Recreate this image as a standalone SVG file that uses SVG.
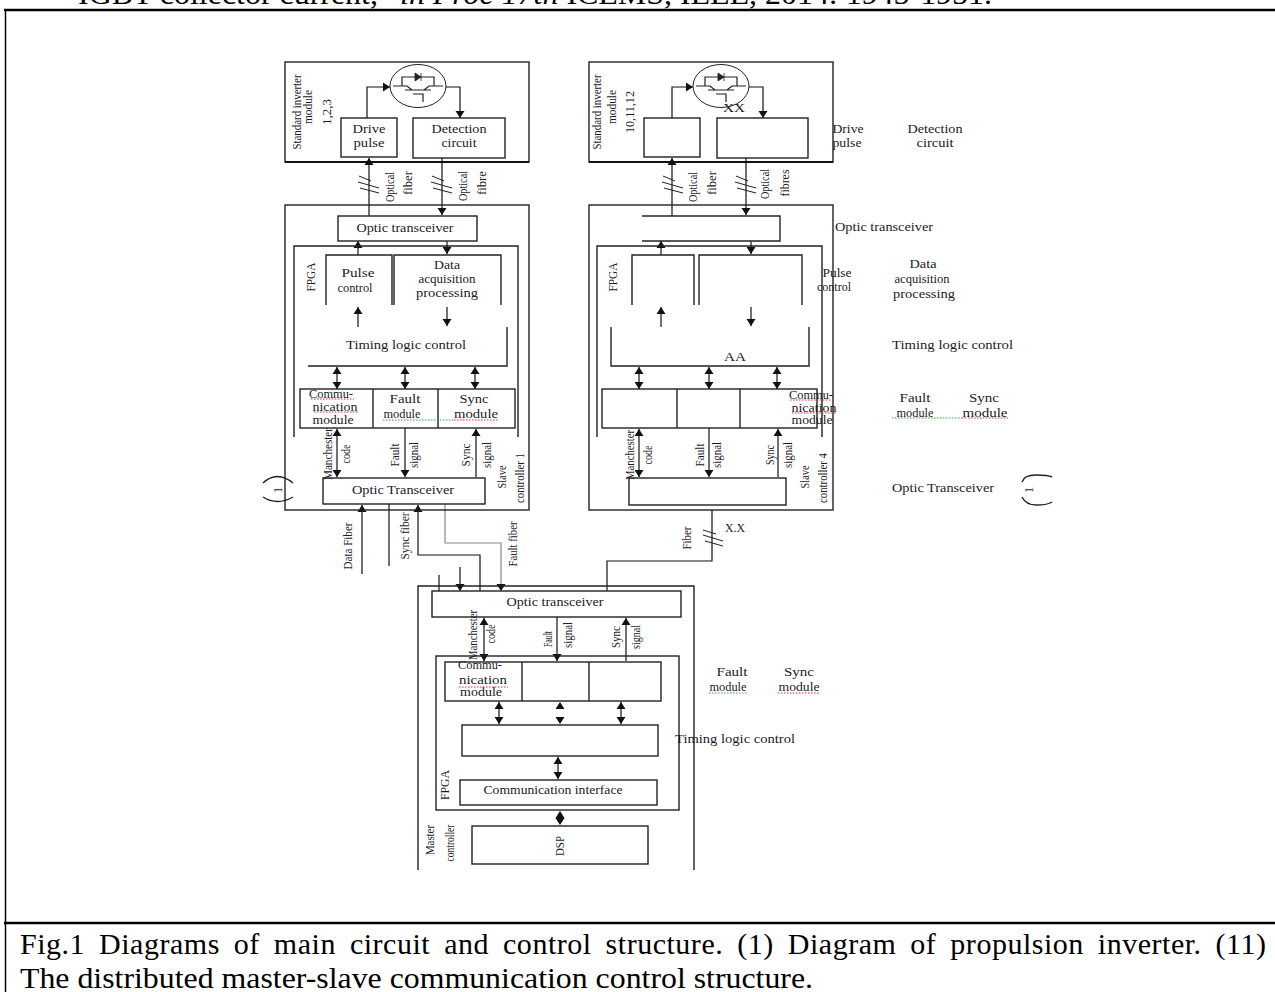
<svg xmlns="http://www.w3.org/2000/svg" width="1275" height="992" viewBox="0 0 1275 992">
<style>
.b{fill:none;stroke:#222;stroke-width:1.4}
.l{fill:none;stroke:#111;stroke-width:1.2}
.h{marker-end:url(#a)}
.d{marker-start:url(#s);marker-end:url(#a)}
.g{stroke:#888}
text{font-family:"Liberation Serif","Times New Roman",serif;fill:#1a1a2a;font-size:13px}
.m{text-anchor:middle}
.c{font-size:30px;fill:#000}
.sl{fill:none;stroke:#222;stroke-width:1}
.r{fill:none;stroke:#e03030;stroke-width:1;stroke-dasharray:1.5 1.5}
.n{fill:none;stroke:#40a040;stroke-width:1;stroke-dasharray:1.5 1.5}
</style>
<defs>
<marker id="a" markerUnits="userSpaceOnUse" markerWidth="10" markerHeight="10" refX="8" refY="5" orient="auto"><path d="M1 0.500L8 5L1 9.500Z" fill="#111"/></marker>
<marker id="s" markerUnits="userSpaceOnUse" markerWidth="10" markerHeight="10" refX="1" refY="5" orient="auto"><path d="M8 0.500L1 5L8 9.500Z" fill="#111"/></marker>
<g id="igbt"><ellipse rx="28" ry="21.500" fill="#fff" stroke="#222" stroke-width="1"/><path d="M-25 0H-11L-6 4M25 0H11L6 4M-16 0V-9H16V0M-13 4H13M-5 8H5V16" fill="none" stroke="#222" stroke-width="1.200"/><path d="M-3 -13L3 -9L-3 -5ZM3 -13V-5" fill="#222" stroke="#222" stroke-width="0.800"/></g>
</defs>
<g id="frame"><path d="M5.500 992V10" fill="none" stroke="#000" stroke-width="1.500"/><path d="M4 10H1275" stroke="#000" stroke-width="2.500"/><path d="M4 923H1275" stroke="#000" stroke-width="2.500"/></g>
<g id="citation"><text class="c" x="78" y="3.500" textLength="914" lengthAdjust="spacingAndGlyphs">IGBT collector current,” <tspan font-style="italic">in Proc 17th</tspan> ICEMS, IEEE, 2014: 1945-1951.</text></g>

<g id="connectors">
<path class="l h" d="M367 118V87H390"/><path class="l h" d="M446 87H460V118"/>
<path class="l h" d="M369 216V158"/><path class="l h" d="M442 158V215"/>
<path class="l h" d="M358 255V241"/><path class="l h" d="M447 241V254"/>
<path class="l h" d="M358 327V307"/><path class="l h" d="M447 307V326"/>
<path class="l d" d="M337 367V389"/><path class="l d" d="M405 367V389"/><path class="l d" d="M475 367V389"/>
<path class="l d" d="M337 429V477"/><path class="l h" d="M405 428V477"/><path class="l h" d="M476 477V429"/>
<path class="l h" d="M362 574V505"/><path class="l" d="M389 504V566"/>
<path class="l h" d="M480 591V555H418V505"/>
<path class="l g h" d="M445 504V543H501V591"/>
<path class="l" d="M439 575V591"/><path class="l h" d="M460 567V591"/>
<path class="l" d="M607 591V561H712V510"/>

<path class="l h" d="M672 118V87H693"/><path class="l h" d="M749 87H763V118"/>
<path class="l h" d="M672 216V158"/><path class="l h" d="M746 158V215" stroke-width="2.500"/>
<path class="l h" d="M661 255V241"/><path class="l h" d="M751 241V254"/>
<path class="l h" d="M661 327V307"/><path class="l h" d="M751 307V326"/>
<path class="l d" d="M639 367V389"/><path class="l d" d="M709 367V389"/><path class="l d" d="M777 367V389"/>
<path class="l d" d="M639 429V477"/><path class="l h" d="M709 428V477"/><path class="l h" d="M778 477V429"/>

<path class="l d" d="M484 618V661"/><path class="l h" d="M557 617V661"/><path class="l h" d="M626 661V618"/>
<path class="l d" d="M499 702V724"/><path d="M560 702l-4.500 7h9zM560 724l-4.500 -7h9z" fill="#111"/><path class="l d" d="M621 702V724"/>
<path class="l d" d="M558 757V779"/><path d="M560 811l-4.500 7h9zM560 825l-4.500 -7h9z" fill="#111"/>
</g>
<g id="slashes">
<path class="sl" d="M359 176L371 181M358 182L379 188M360 188L379 193"/>
<path class="sl" d="M432 176L444 181M431 182L452 188M433 188L452 193"/>
<path class="sl" d="M663 176L675 181M662 182L683 188M664 188L683 193"/>
<path class="sl" d="M736 176L748 181M735 182L756 188M737 188L756 193"/>
<path class="sl" d="M703 530L716 534M703 535L723 541M705 541L723 546"/>
</g>

<g id="inverter-module-1">
<rect class="b" x="285" y="62" width="244" height="100"/><path d="M285 162H529" stroke="#111" stroke-width="2"/>
<use href="#igbt" x="418" y="86"/>
<text transform="translate(301,112) rotate(-90)" class="m" textLength="75" lengthAdjust="spacingAndGlyphs">Standard inverter</text>
<text transform="translate(312,107) rotate(-90)" class="m" textLength="34" lengthAdjust="spacingAndGlyphs">module</text>
<text transform="translate(331,112) rotate(-90)" class="m" textLength="26" lengthAdjust="spacingAndGlyphs">1,2,3</text>
</g>
<g id="drive-pulse-1"><rect class="b" x="341" y="118" width="56" height="39"/><text class="m" x="369" y="133" textLength="33" lengthAdjust="spacingAndGlyphs">Drive</text><text class="m" x="369" y="147" textLength="31" lengthAdjust="spacingAndGlyphs">pulse</text></g>
<g id="detection-1"><rect class="b" x="413" y="118" width="92" height="40" stroke-width="2"/><text class="m" x="459" y="133" textLength="55" lengthAdjust="spacingAndGlyphs">Detection</text><text class="m" x="459" y="147" textLength="35" lengthAdjust="spacingAndGlyphs">circuit</text></g>
<g id="fiber-labels-1">
<text transform="translate(394,187) rotate(-90)" class="m" textLength="30" lengthAdjust="spacingAndGlyphs">Optical</text><text transform="translate(412,183) rotate(-90)" class="m" textLength="24" lengthAdjust="spacingAndGlyphs">fiber</text>
<text transform="translate(467,186) rotate(-90)" class="m" textLength="30" lengthAdjust="spacingAndGlyphs">Optical</text><text transform="translate(486,183) rotate(-90)" class="m" textLength="24" lengthAdjust="spacingAndGlyphs">fibre</text>
</g>

<g id="slave-1">
<rect class="b" x="285" y="205" width="244" height="305"/>
<text transform="translate(506,477) rotate(-90)" class="m" textLength="23" lengthAdjust="spacingAndGlyphs">Slave</text>
<text transform="translate(524,478) rotate(-90)" class="m" textLength="50" lengthAdjust="spacingAndGlyphs">controller 1</text>
</g>
<g id="optic-1"><rect class="b" x="338" y="216" width="139" height="25"/><text class="m" x="405" y="232" textLength="97" lengthAdjust="spacingAndGlyphs">Optic transceiver</text></g>
<g id="fpga-1"><path class="b" d="M294 437V246H518V437"/><text transform="translate(315,277) rotate(-90)" class="m" textLength="29" lengthAdjust="spacingAndGlyphs">FPGA</text></g>
<g id="pulse-1"><path class="b" d="M326 305V255H392V305"/><text class="m" x="358" y="277" textLength="33" lengthAdjust="spacingAndGlyphs">Pulse</text><text class="m" x="355" y="292" textLength="35" lengthAdjust="spacingAndGlyphs">control</text></g>
<g id="data-1"><path class="b" d="M394 305V255H501V305"/><text class="m" x="447" y="269" textLength="26" lengthAdjust="spacingAndGlyphs">Data</text><text class="m" x="447" y="283" textLength="57" lengthAdjust="spacingAndGlyphs">acquisition</text><text class="m" x="447" y="297" textLength="62" lengthAdjust="spacingAndGlyphs">processing</text></g>
<g id="timing-1"><path class="b" d="M308 366H507V327"/><text class="m" x="406" y="349" textLength="120" lengthAdjust="spacingAndGlyphs">Timing logic control</text></g>
<g id="modules-1">
<rect class="b" x="300" y="389" width="215" height="39"/><path class="b" d="M373 389V428M438 389V428"/>
<text class="m" x="331" y="398" textLength="44" lengthAdjust="spacingAndGlyphs">Commu-</text><text class="m" x="335" y="411" textLength="45" lengthAdjust="spacingAndGlyphs">nication</text><text class="m" x="333" y="424" textLength="41" lengthAdjust="spacingAndGlyphs">module</text>
<text class="m" x="405" y="403" textLength="31" lengthAdjust="spacingAndGlyphs">Fault</text><text class="m" x="402" y="418" textLength="37" lengthAdjust="spacingAndGlyphs">module</text>
<text class="m" x="474" y="403" textLength="29" lengthAdjust="spacingAndGlyphs">Sync</text><text class="m" x="476" y="418" textLength="44" lengthAdjust="spacingAndGlyphs">module</text>
<path class="r" d="M311 399H354M314 412H358M454 420H498"/><path class="n" d="M383 420H454"/>
</g>
<g id="signals-1">
<text transform="translate(332,454) rotate(-90)" class="m" textLength="52" lengthAdjust="spacingAndGlyphs">Manchester</text><text transform="translate(350,454) rotate(-90)" class="m" textLength="19" lengthAdjust="spacingAndGlyphs">code</text>
<text transform="translate(399,455) rotate(-90)" class="m" textLength="23" lengthAdjust="spacingAndGlyphs">Fault</text><text transform="translate(418,455) rotate(-90)" class="m" textLength="26" lengthAdjust="spacingAndGlyphs">signal</text>
<text transform="translate(470,455) rotate(-90)" class="m" textLength="23" lengthAdjust="spacingAndGlyphs">Sync</text><text transform="translate(491,455) rotate(-90)" class="m" textLength="26" lengthAdjust="spacingAndGlyphs">signal</text>
</g>
<g id="optic-tx-1"><rect class="b" x="323" y="478" width="162" height="26"/><text class="m" x="403" y="494" textLength="102" lengthAdjust="spacingAndGlyphs">Optic Transceiver</text></g>
<g id="mark-1"><path class="b" d="M263 483Q277 470 293 483M263 497Q277 506 293 497"/><text class="m" transform="translate(282,490) rotate(-90)" font-size="11">1</text></g>
<g id="fiber-labels-bottom">
<text transform="translate(352,546) rotate(-90)" class="m" textLength="47" lengthAdjust="spacingAndGlyphs">Data Fiber</text>
<text transform="translate(409,536) rotate(-90)" class="m" textLength="47" lengthAdjust="spacingAndGlyphs">Sync fiber</text>
<text transform="translate(517,544) rotate(-90)" class="m" textLength="45" lengthAdjust="spacingAndGlyphs">Fault fiber</text>
</g>

<g id="inverter-module-2">
<rect class="b" x="589" y="62" width="244" height="100"/><path d="M589 162H833" stroke="#111" stroke-width="2"/>
<use href="#igbt" x="721" y="86"/>
<text transform="translate(601,112) rotate(-90)" class="m" textLength="75" lengthAdjust="spacingAndGlyphs">Standard inverter</text>
<text transform="translate(616,107) rotate(-90)" class="m" textLength="34" lengthAdjust="spacingAndGlyphs">module</text>
<text transform="translate(634,112) rotate(-90)" class="m" textLength="42" lengthAdjust="spacingAndGlyphs">10,11,12</text>
<text class="m" x="734" y="112" textLength="22" lengthAdjust="spacingAndGlyphs">XX</text>
</g>
<g id="drive-pulse-2"><rect class="b" x="644" y="118" width="56" height="39"/><text class="m" x="848" y="133" textLength="31" lengthAdjust="spacingAndGlyphs">Drive</text><text class="m" x="847" y="147" textLength="29" lengthAdjust="spacingAndGlyphs">pulse</text></g>
<g id="detection-2"><rect class="b" x="717" y="118" width="91" height="40"/><text class="m" x="935" y="133" textLength="55" lengthAdjust="spacingAndGlyphs">Detection</text><text class="m" x="935" y="147" textLength="37" lengthAdjust="spacingAndGlyphs">circuit</text></g>
<g id="fiber-labels-2">
<text transform="translate(697,187) rotate(-90)" class="m" textLength="30" lengthAdjust="spacingAndGlyphs">Optical</text><text transform="translate(716,183) rotate(-90)" class="m" textLength="24" lengthAdjust="spacingAndGlyphs">fiber</text>
<text transform="translate(769,184) rotate(-90)" class="m" textLength="30" lengthAdjust="spacingAndGlyphs">Optical</text><text transform="translate(789,183) rotate(-90)" class="m" textLength="27" lengthAdjust="spacingAndGlyphs">fibres</text>
</g>

<g id="slave-4">
<rect class="b" x="589" y="205" width="244" height="305"/>
<text transform="translate(809,477) rotate(-90)" class="m" textLength="23" lengthAdjust="spacingAndGlyphs">Slave</text>
<text transform="translate(827,478) rotate(-90)" class="m" textLength="50" lengthAdjust="spacingAndGlyphs">controller 4</text>
</g>
<g id="optic-2"><path class="b" d="M642 216H780V241H642"/><text x="835" y="231" textLength="98" lengthAdjust="spacingAndGlyphs">Optic transceiver</text></g>
<g id="fpga-2"><path class="b" d="M597 437V246H822V437"/><text transform="translate(617,277) rotate(-90)" class="m" textLength="29" lengthAdjust="spacingAndGlyphs">FPGA</text></g>
<g id="pulse-2"><path class="b" d="M632 305V255H694V305"/><text class="m" x="837" y="277" textLength="29" lengthAdjust="spacingAndGlyphs">Pulse</text><text class="m" x="834" y="291" textLength="34" lengthAdjust="spacingAndGlyphs">control</text></g>
<g id="data-2"><path class="b" d="M699 305V255H802V305"/><text class="m" x="923" y="268" textLength="27" lengthAdjust="spacingAndGlyphs">Data</text><text class="m" x="922" y="283" textLength="55" lengthAdjust="spacingAndGlyphs">acquisition</text><text class="m" x="924" y="298" textLength="62" lengthAdjust="spacingAndGlyphs">processing</text></g>
<g id="timing-2"><path class="b" d="M611 327V366H809V327"/><text class="m" x="735" y="361" textLength="22" lengthAdjust="spacingAndGlyphs">AA</text><text x="892" y="349" textLength="121" lengthAdjust="spacingAndGlyphs">Timing logic control</text></g>
<g id="modules-2">
<rect class="b" x="602" y="389" width="215" height="39"/><path class="b" d="M677 389V428M740 389V428"/>
<text class="m" x="811" y="399" textLength="44" lengthAdjust="spacingAndGlyphs">Commu-</text><text class="m" x="814" y="412" textLength="45" lengthAdjust="spacingAndGlyphs">nication</text><text class="m" x="812" y="424" textLength="41" lengthAdjust="spacingAndGlyphs">module</text>
<text class="m" x="915" y="402" textLength="31" lengthAdjust="spacingAndGlyphs">Fault</text><text class="m" x="915" y="417" textLength="37" lengthAdjust="spacingAndGlyphs">module</text>
<text class="m" x="984" y="402" textLength="30" lengthAdjust="spacingAndGlyphs">Sync</text><text class="m" x="985" y="417" textLength="45" lengthAdjust="spacingAndGlyphs">module</text>
<path class="r" d="M790 400H833M792 413H837M962 418H1008"/><path class="n" d="M892 418H962"/>
</g>
<g id="signals-2">
<text transform="translate(634,455) rotate(-90)" class="m" textLength="50" lengthAdjust="spacingAndGlyphs">Manchester</text><text transform="translate(652,455) rotate(-90)" class="m" textLength="19" lengthAdjust="spacingAndGlyphs">code</text>
<text transform="translate(704,455) rotate(-90)" class="m" textLength="23" lengthAdjust="spacingAndGlyphs">Fault</text><text transform="translate(721,455) rotate(-90)" class="m" textLength="26" lengthAdjust="spacingAndGlyphs">signal</text>
<text transform="translate(774,455) rotate(-90)" class="m" textLength="20" lengthAdjust="spacingAndGlyphs">Sync</text><text transform="translate(792,455) rotate(-90)" class="m" textLength="26" lengthAdjust="spacingAndGlyphs">signal</text>
</g>
<g id="optic-tx-2"><rect class="b" x="629" y="478" width="157" height="27"/><text x="892" y="492" textLength="102" lengthAdjust="spacingAndGlyphs">Optic Transceiver</text></g>
<g id="mark-2"><path class="b" d="M1022 482Q1024 475 1036 475Q1048 475 1052 477M1022 497Q1026 505 1036 505Q1048 505 1052 502"/><text class="m" transform="translate(1033,490) rotate(-90)" font-size="11">1</text></g>
<g id="fiber-label-x"><text transform="translate(691,538) rotate(-90)" class="m" textLength="23" lengthAdjust="spacingAndGlyphs">Fiber</text><text class="m" x="735" y="532" textLength="20" lengthAdjust="spacingAndGlyphs">X.X</text></g>

<g id="master">
<path class="b" d="M418 870V586H694V870"/>
<text transform="translate(434,840) rotate(-90)" class="m" textLength="30" lengthAdjust="spacingAndGlyphs">Master</text>
<text transform="translate(454,843) rotate(-90)" class="m" textLength="37" lengthAdjust="spacingAndGlyphs">controller</text>
</g>
<g id="optic-m"><rect class="b" x="432" y="591" width="249" height="26"/><text class="m" x="555" y="606" textLength="97" lengthAdjust="spacingAndGlyphs">Optic transceiver</text></g>
<g id="signals-m">
<text transform="translate(477,635) rotate(-90)" class="m" textLength="50" lengthAdjust="spacingAndGlyphs">Manchester</text><text transform="translate(495,634) rotate(-90)" class="m" textLength="19" lengthAdjust="spacingAndGlyphs">code</text>
<text transform="translate(552,639) rotate(-90)" class="m" textLength="16" lengthAdjust="spacingAndGlyphs">Fault</text><text transform="translate(572,635) rotate(-90)" class="m" textLength="26" lengthAdjust="spacingAndGlyphs">signal</text>
<text transform="translate(620,637) rotate(-90)" class="m" textLength="22" lengthAdjust="spacingAndGlyphs">Sync</text><text transform="translate(640,637) rotate(-90)" class="m" textLength="24" lengthAdjust="spacingAndGlyphs">signal</text>
</g>
<g id="fpga-m"><rect class="b" x="436" y="656" width="243" height="154"/><text transform="translate(449,785) rotate(-90)" class="m" textLength="30" lengthAdjust="spacingAndGlyphs">FPGA</text></g>
<g id="modules-m">
<rect class="b" x="445" y="662" width="216" height="39"/><path class="b" d="M522 662V701M589 662V701"/>
<text class="m" x="480" y="669" textLength="44" lengthAdjust="spacingAndGlyphs">Commu-</text><text class="m" x="483" y="684" textLength="48" lengthAdjust="spacingAndGlyphs">nication</text><text class="m" x="481" y="696" textLength="42" lengthAdjust="spacingAndGlyphs">module</text>
<text class="m" x="732" y="676" textLength="31" lengthAdjust="spacingAndGlyphs">Fault</text><text class="m" x="728" y="691" textLength="37" lengthAdjust="spacingAndGlyphs">module</text>
<text class="m" x="799" y="676" textLength="30" lengthAdjust="spacingAndGlyphs">Sync</text><text class="m" x="799" y="691" textLength="41" lengthAdjust="spacingAndGlyphs">module</text>
<path class="r" d="M459 687H508M778 693H820"/><path class="n" d="M709 693H748"/>
</g>
<g id="timing-m"><rect class="b" x="462" y="725" width="196" height="31"/><text x="675" y="743" textLength="120" lengthAdjust="spacingAndGlyphs">Timing logic control</text></g>
<g id="comm-m"><rect class="b" x="460" y="780" width="197" height="25"/><text class="m" x="553" y="794" textLength="139" lengthAdjust="spacingAndGlyphs">Communication interface</text></g>
<g id="dsp"><rect class="b" x="472" y="826" width="176" height="38"/><text transform="translate(564,846) rotate(-90)" class="m" textLength="20" lengthAdjust="spacingAndGlyphs">DSP</text></g>

<g id="caption">
<text class="c" x="20" y="954" word-spacing="6" textLength="1246">Fig.1 Diagrams of main circuit and control structure. (1) Diagram of propulsion inverter. (11)</text>
<text class="c" x="20" y="988" textLength="793" lengthAdjust="spacingAndGlyphs">The distributed master-slave communication control structure.</text>
</g>
</svg>
